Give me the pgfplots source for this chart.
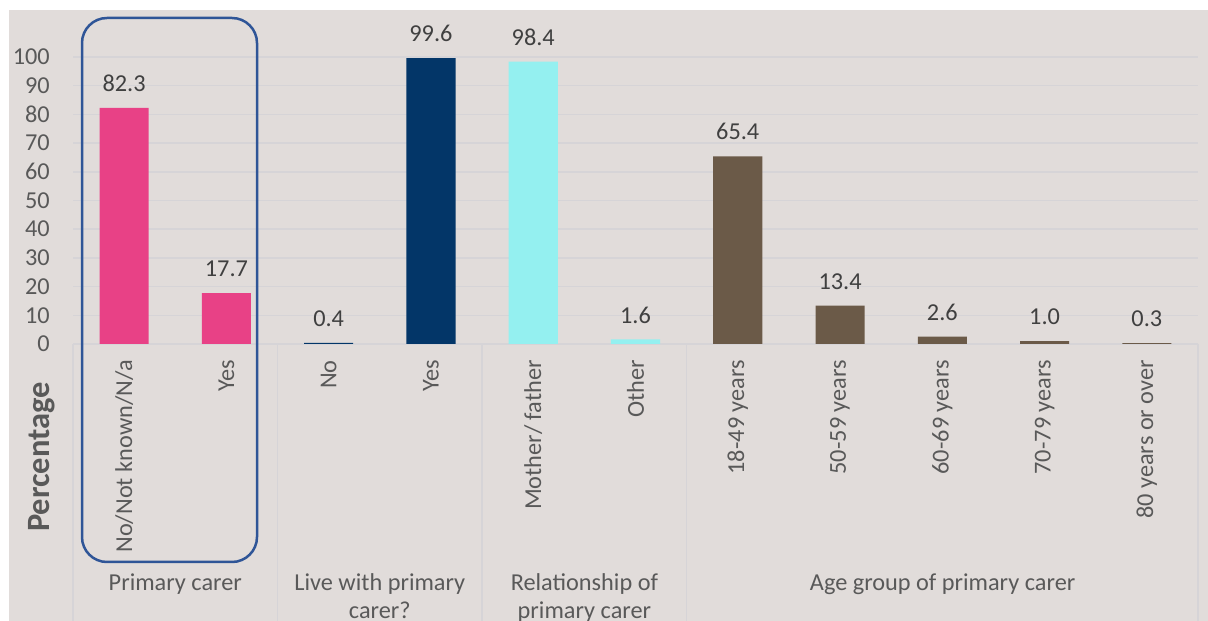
\documentclass[border=0pt]{standalone}
\usepackage{pgfplots}
\pgfplotsset{compat=1.18}
\usepackage{fontspec}
\setmainfont{Carlito}
\definecolor{bg}{RGB}{225,220,218}
\definecolor{gridc}{RGB}{214,212,215}
\definecolor{txt}{RGB}{89,89,89}
\definecolor{lbl}{RGB}{64,64,64}
\definecolor{cpink}{RGB}{232,65,134}
\definecolor{cnavy}{RGB}{3,54,104}
\definecolor{ccyan}{RGB}{148,240,240}
\definecolor{cbrown}{RGB}{107,90,72}
\definecolor{cblue}{RGB}{47,85,151}
\newcommand\fs{\fontsize{24.3}{29}\selectfont}
\begin{document}
\begin{tikzpicture}[x=1pt,y=1pt]
\useasboundingbox (0,0) rectangle (1208,621);
\fill[bg] (9,0) rectangle (1208,611);
\begin{axis}[
  at={(73pt,277pt)}, anchor=south west,
  scale only axis, width=1125pt, height=287pt,
  xmin=-0.5, xmax=10.5, ymin=0, ymax=100,
  ybar, bar width=0.48,
  axis x line*=bottom, axis y line*=left,
  x axis line style={draw=gridc, line width=1.5pt, -},
  y axis line style={draw=none},
  major tick length=0pt,
  ymajorgrids, grid style={draw=gridc, line width=1.5pt},
  ytick={0,10,...,100},
  xtick={0,...,10},
  xticklabels={No/Not known/N/a, Yes, No, Yes, Mother/ father, Other, 18-49 years, 50-59 years, 60-69 years, 70-79 years, 80 years or over},
  /pgf/number format/assume math mode=true,
  ticklabel style={font=\fs, text=txt, inner sep=0pt},
  xticklabel style={rotate=90, anchor=east},
  xticklabel shift=16pt,
  yticklabel shift=23pt,
  nodes near coords={\pgfmathprintnumber[fixed,fixed zerofill,precision=1]{\pgfplotspointmeta}},
  every node near coord/.append style={font=\fs, text=lbl, anchor=south, inner sep=0pt, yshift=16pt},
  clip=false,
]
\addplot[fill=cpink, draw=none, bar shift=0pt] coordinates {(0,82.3) (1,17.7)};
\addplot[fill=cnavy, draw=none, bar shift=0pt] coordinates {(2,0.4) (3,99.6)};
\addplot[fill=ccyan, draw=none, bar shift=0pt] coordinates {(4,98.4) (5,1.6)};
\addplot[fill=cbrown, draw=none, bar shift=0pt] coordinates {(6,65.4) (7,13.4) (8,2.6) (9,1.0) (10,0.3)};
\end{axis}
\foreach \xx in {73,277.5,482.1,686.6,1198} {\draw[gridc, line width=1.5pt] (\xx,277) -- (\xx,0);}
\draw[cblue, line width=2.5pt, rounded corners=25pt] (82,59) rectangle (257,603);
\node[rotate=90, font=\fontsize{32.5}{38}\selectfont\bfseries, text=txt] at (42,164) {Percentage};
\node[anchor=base, font=\fs, text=txt] at (175.3,30) {Primary carer};
\node[anchor=base, font=\fs, text=txt] at (379.8,30) {Live with primary};
\node[anchor=base, font=\fs, text=txt] at (379.8,2.5) {carer?};
\node[anchor=base, font=\fs, text=txt] at (584.4,30) {Relationship of};
\node[anchor=base, font=\fs, text=txt] at (584.4,2.5) {primary carer};
\node[anchor=base, font=\fs, text=txt] at (942.6,30) {Age group of primary carer};
\end{tikzpicture}
\end{document}
